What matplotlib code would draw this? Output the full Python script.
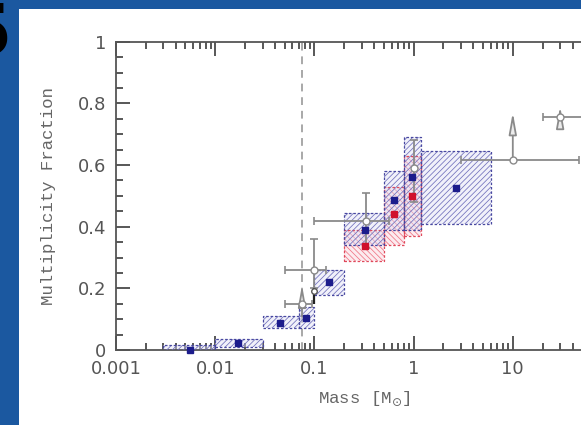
import matplotlib
matplotlib.use('Agg')
import matplotlib.pyplot as plt
from matplotlib.patches import Rectangle
from matplotlib.ticker import FixedLocator, FixedFormatter, NullFormatter

# ---------------- data ----------------
# blue hatched boxes (mass range x fraction range) with central points
blue_xlo = [0.003, 0.01, 0.03, 0.07, 0.1, 0.2, 0.5, 0.8, 1.2]
blue_xhi = [0.01, 0.03, 0.07, 0.1, 0.2, 0.5, 0.8, 1.2, 6.0]
blue_flo = [0.0, 0.01, 0.07, 0.07, 0.18, 0.34, 0.39, 0.39, 0.41]
blue_fhi = [0.015, 0.035, 0.11, 0.14, 0.26, 0.445, 0.58, 0.69, 0.645]
blue_mx = [0.0056, 0.017, 0.045, 0.083, 0.14, 0.32, 0.63, 0.97, 2.65]
blue_f = [0.0, 0.024, 0.089, 0.103, 0.22, 0.39, 0.485, 0.56, 0.525]

# red hatched boxes with central points
red_xlo = [0.2, 0.5, 0.8]
red_xhi = [0.5, 0.8, 1.2]
red_flo = [0.29, 0.34, 0.37]
red_fhi = [0.39, 0.53, 0.63]
red_mx = [0.32, 0.63, 0.97]
red_f = [0.337, 0.44, 0.50]

# grey literature points with error bars
gray_x = [0.075, 0.1, 0.33, 1.0, 10.0, 30.0]
gray_f = [0.15, 0.26, 0.42, 0.59, 0.616, 0.756]
gray_xlo = [0.05, 0.05, 0.1, 1.0, 3.0, 20.0]
gray_xhi = [0.095, 0.13, 0.56, 1.0, 46.0, 80.0]
gray_flo = [0.15, 0.2, 0.33, 0.48, 0.616, 0.756]
gray_fhi = [0.15, 0.36, 0.51, 0.68, 0.616, 0.756]

# lower-limit arrows
arrow_x = [0.075, 10.0, 30.0]
arrow_from = [0.10, 0.616, 0.74]
arrow_to = [0.22, 0.78, 0.80]

# black point
black_x = [0.1]
black_f = [0.19]
black_flo = [0.15]
black_fhi = [0.20]

hbl_mass = 0.075

x_ticks = [0.001, 0.01, 0.1, 1, 10]
x_ticklabels = ['0.001', '0.01', '0.1', '1', '10']
y_ticks = [0, 0.2, 0.4, 0.6, 0.8, 1.0]
y_ticklabels = ['0', '0.2', '0.4', '0.6', '0.8', '1']

# ---------------- figure ----------------
W, H = 581, 425
plt.rcParams['hatch.linewidth'] = 0.55
fig = plt.figure(figsize=(W / 100, H / 100), dpi=100, facecolor='#1b58a0')
fig.patches.append(Rectangle((19 / W, 0), 1, 1 - 9 / H, transform=fig.transFigure,
                             facecolor='white', edgecolor='none', zorder=-10))
fig.text(12 / W, 1 - 36 / H, '5', fontsize=52, fontweight='bold', color='black',
         ha='right', va='center', family='DejaVu Sans')

ax = fig.add_axes([116 / W, 75 / H, 496 / W, 308.3 / H])
ax.set_facecolor('white')
ax.set_xscale('log')
ax.set_xlim(1e-3, 1e2)
ax.set_ylim(0, 1)

ax.axvline(hbl_mass, color='#a8a8a8', ls=(0, (4, 3)), lw=1.4, zorder=1)

def box(xlo, xhi, flo, fhi, fcol, hcol, ecol, hatch, z):
    ax.add_patch(Rectangle((xlo, flo), xhi - xlo, fhi - flo, facecolor=fcol,
                           edgecolor='none', linewidth=0, zorder=z - 1))
    ax.add_patch(Rectangle((xlo, flo), xhi - xlo, fhi - flo, facecolor='none',
                           edgecolor=hcol, hatch=hatch, linewidth=0, zorder=z))
    ax.add_patch(Rectangle((xlo, flo), xhi - xlo, fhi - flo, facecolor='none',
                           edgecolor=ecol, linestyle=(0, (2, 1.5)), linewidth=0.9,
                           zorder=z + 0.5))

for i in range(len(red_xlo)):
    box(red_xlo[i], red_xhi[i], red_flo[i], red_fhi[i], (0.98, 0.85, 0.88, 0.5),
        '#f07585', '#e04a5c', '\\\\\\\\\\\\', 2)
for i in range(len(blue_xlo)):
    box(blue_xlo[i], blue_xhi[i], blue_flo[i], blue_fhi[i], (0.88, 0.88, 0.96, 0.45),
        '#7070bc', '#4848a0', '//////', 3)

gray = '#8a8a8a'
for i in range(len(gray_x)):
    xe = None
    if gray_xlo[i] != gray_xhi[i]:
        xe = [[gray_x[i] - gray_xlo[i]], [gray_xhi[i] - gray_x[i]]]
    ye = None
    if gray_flo[i] != gray_fhi[i]:
        ye = [[gray_f[i] - gray_flo[i]], [gray_fhi[i] - gray_f[i]]]
    ax.errorbar([gray_x[i]], [gray_f[i]], xerr=xe, yerr=ye, fmt='o', ms=5,
                mfc='white', mec=gray, ecolor=gray, elinewidth=1.3, capsize=3,
                capthick=1.2, zorder=6)

for i in range(len(arrow_x)):
    ax.annotate('', xy=(arrow_x[i], arrow_to[i]), xytext=(arrow_x[i], arrow_from[i]),
                arrowprops=dict(arrowstyle='-|>,head_length=1.0,head_width=0.18',
                                color=gray, lw=1.3, mutation_scale=13, fc='#ececec'),
                zorder=6)

ax.errorbar(black_x, black_f,
            yerr=[[black_f[0] - black_flo[0]], [black_fhi[0] - black_f[0]]],
            fmt='o', ms=4, mfc='white', mec='#555555', ecolor='#222222',
            elinewidth=1.6, capsize=0, zorder=7)

ax.plot(blue_mx, blue_f, 's', ms=4.5, color='#1c1c8c', zorder=8, clip_on=False)
ax.plot(red_mx, red_f, 's', ms=4.5, color='#d0102c', zorder=8)

# axes styling
for s in ['left', 'bottom', 'top']:
    ax.spines[s].set_color('#555555')
    ax.spines[s].set_linewidth(1.3)
ax.spines['right'].set_visible(False)

ax.xaxis.set_major_locator(FixedLocator(x_ticks))
ax.xaxis.set_major_formatter(FixedFormatter(x_ticklabels))
minor_x = [m * d for d in [0.001, 0.01, 0.1, 1, 10] for m in range(2, 10)]
ax.xaxis.set_minor_locator(FixedLocator(minor_x))
ax.xaxis.set_minor_formatter(NullFormatter())
ax.yaxis.set_major_locator(FixedLocator(y_ticks))
ax.yaxis.set_major_formatter(FixedFormatter(y_ticklabels))
ax.yaxis.set_minor_locator(FixedLocator([i * 0.05 for i in range(21)]))

ax.tick_params(which='both', direction='in', top=True, right=False,
               color='#4a4a4a', width=1.3)
ax.tick_params(which='major', length=10, pad=7, labelsize=13, labelcolor='#555555')
ax.tick_params(which='minor', length=5)

fig.text(48 / W, 1 - 196 / H, 'Multiplicity Fraction', rotation=90,
         ha='center', va='center', fontsize=12.5, color='#666666',
         family='Liberation Mono')
fig.text(364 / W, 1 - 399 / H, r'Mass [M$_{\odot}$]', ha='center', va='center',
         fontsize=12.5, color='#666666', family='Liberation Mono')

fig.savefig('out.png', dpi=100, facecolor=fig.get_facecolor())
